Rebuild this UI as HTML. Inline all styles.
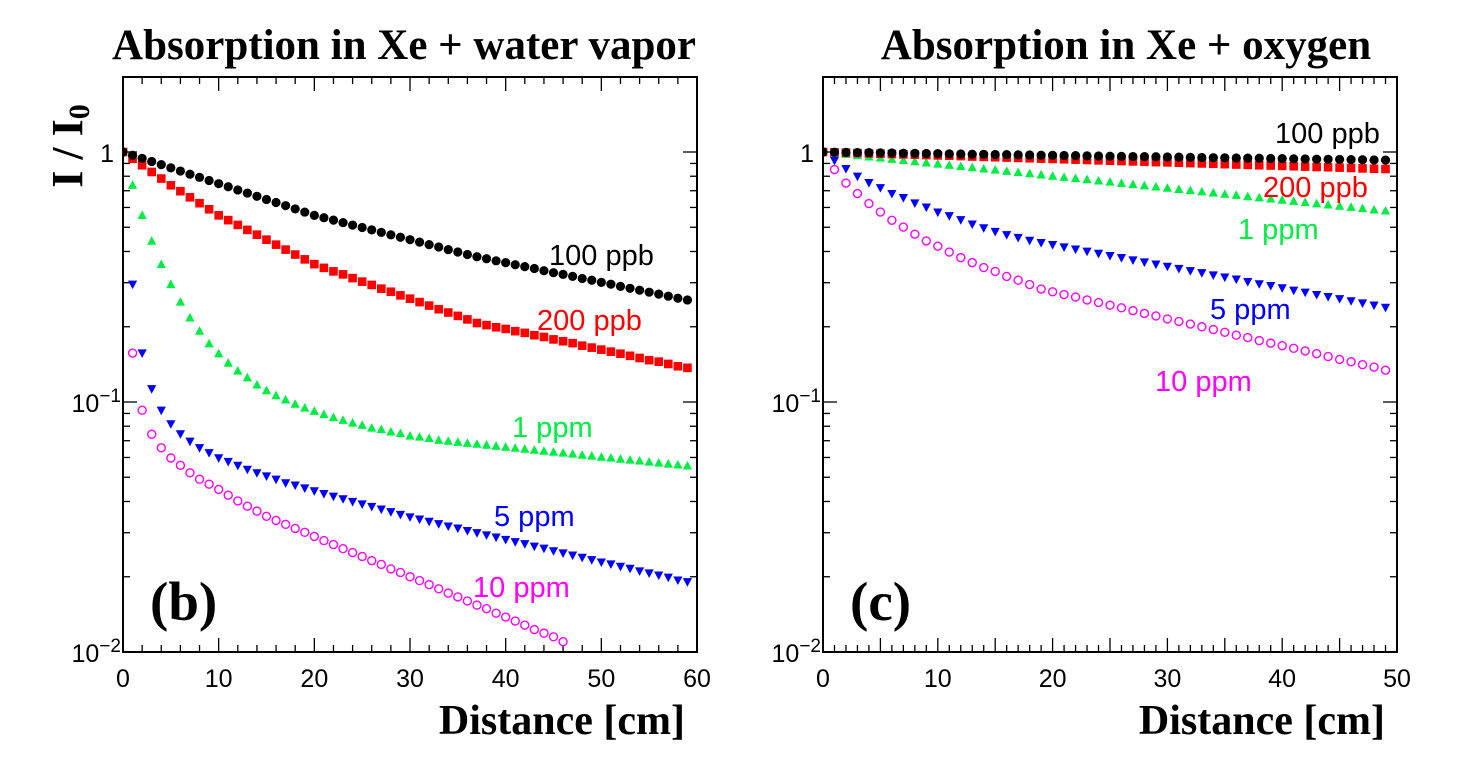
<!DOCTYPE html>
<html><head><meta charset="utf-8"><style>
html,body{margin:0;padding:0;background:#fff;}
svg{display:block;}
.serif{font-family:"Liberation Serif",serif;font-weight:bold;}
.sans{font-family:"Liberation Sans",sans-serif;}
</style></head><body>
<svg id="chart" width="1472" height="770" viewBox="0 0 1472 770" xmlns="http://www.w3.org/2000/svg">
<rect width="1472" height="770" fill="#fff"/>
<g id="panelB"></g>
<g id="panelC"></g>
</svg>
<script>
// ---- Panel (b): Xe + water vapor ----
const xB = [];
for (let i = 0; i < 60; i++) xB.push(i);
const b100ppb = [1.000,0.971,0.943,0.916,0.890,0.864,0.839,0.815,0.792,0.769,0.747,0.726,0.705,0.685,0.665,0.646,0.628,0.610,0.592,0.575,0.558,0.546,0.534,0.522,0.510,0.499,0.488,0.477,0.466,0.456,0.446,0.436,0.426,0.417,0.407,0.398,0.389,0.381,0.374,0.367,0.361,0.354,0.348,0.342,0.335,0.329,0.324,0.318,0.312,0.307,0.301,0.296,0.290,0.285,0.280,0.275,0.270,0.265,0.260,0.256];
const b200ppb = [1.000,0.940,0.885,0.832,0.783,0.736,0.697,0.659,0.624,0.590,0.558,0.534,0.511,0.488,0.467,0.446,0.426,0.407,0.389,0.372,0.356,0.344,0.333,0.324,0.313,0.303,0.294,0.284,0.276,0.267,0.259,0.251,0.243,0.235,0.228,0.221,0.214,0.207,0.203,0.199,0.196,0.192,0.189,0.185,0.182,0.178,0.175,0.172,0.168,0.165,0.162,0.159,0.156,0.153,0.150,0.147,0.145,0.142,0.139,0.137];
const b1ppm = [1.000,0.736,0.558,0.440,0.355,0.295,0.251,0.217,0.192,0.171,0.156,0.143,0.133,0.125,0.117,0.111,0.106,0.102,0.0980,0.0946,0.0918,0.0891,0.0867,0.0845,0.0824,0.0807,0.0787,0.0776,0.0759,0.0748,0.0731,0.0724,0.0715,0.0703,0.0697,0.0690,0.0684,0.0678,0.0672,0.0666,0.0660,0.0654,0.0648,0.0642,0.0636,0.0630,0.0625,0.0619,0.0613,0.0608,0.0602,0.0597,0.0591,0.0586,0.0581,0.0575,0.0570,0.0565,0.0560,0.0555];
const b5ppm = [1.000,0.296,0.157,0.113,0.0927,0.0818,0.0746,0.0697,0.0656,0.0627,0.0598,0.0578,0.0558,0.0538,0.0521,0.0506,0.0491,0.0475,0.0465,0.0453,0.0441,0.0430,0.0420,0.0410,0.0400,0.0391,0.0382,0.0373,0.0364,0.0355,0.0347,0.0340,0.0333,0.0326,0.0319,0.0313,0.0306,0.0300,0.0294,0.0288,0.0282,0.0276,0.0271,0.0265,0.0260,0.0254,0.0249,0.0244,0.0239,0.0234,0.0229,0.0225,0.0220,0.0216,0.0211,0.0207,0.0203,0.0199,0.0194,0.0191];
const b10ppm = [1.000,0.157,0.0927,0.0743,0.0656,0.0597,0.0558,0.0521,0.0491,0.0469,0.0447,0.0424,0.0402,0.0383,0.0366,0.0349,0.0336,0.0324,0.0312,0.0301,0.0290,0.0279,0.0269,0.0259,0.0250,0.0241,0.0232,0.0224,0.0215,0.0208,0.0200,0.0193,0.0186,0.0179,0.0172,0.0166,0.0160,0.0154,0.0149,0.0143,0.0138,0.0133,0.0128,0.0123,0.0119,0.0115,0.0110];
const xTicksB = [0,10,20,30,40,50,60];
// ---- Panel (c): Xe + oxygen ----
const xC = [];
for (let i = 0; i < 50; i++) xC.push(i);
const c100ppb = [1.000,0.998,0.997,0.995,0.994,0.992,0.991,0.989,0.988,0.986,0.985,0.983,0.982,0.980,0.979,0.977,0.976,0.974,0.973,0.971,0.970,0.968,0.967,0.965,0.964,0.962,0.961,0.959,0.958,0.957,0.955,0.954,0.952,0.951,0.949,0.948,0.946,0.945,0.944,0.942,0.941,0.939,0.938,0.936,0.935,0.934,0.932,0.931,0.929,0.928];
const c200ppb = [1.000,0.997,0.994,0.990,0.987,0.984,0.981,0.978,0.975,0.972,0.969,0.966,0.963,0.959,0.956,0.953,0.950,0.947,0.944,0.941,0.938,0.935,0.932,0.929,0.926,0.923,0.920,0.917,0.914,0.911,0.909,0.906,0.903,0.900,0.897,0.894,0.891,0.888,0.885,0.883,0.880,0.877,0.874,0.871,0.869,0.866,0.863,0.860,0.857,0.855];
const c1ppm = [1.000,0.989,0.978,0.967,0.956,0.946,0.935,0.925,0.915,0.905,0.895,0.885,0.875,0.866,0.856,0.847,0.837,0.828,0.819,0.810,0.801,0.792,0.783,0.775,0.766,0.758,0.749,0.741,0.733,0.725,0.717,0.709,0.701,0.693,0.686,0.678,0.671,0.663,0.656,0.649,0.642,0.635,0.628,0.621,0.614,0.607,0.601,0.594,0.587,0.581];
const c5ppm = [1.000,0.926,0.858,0.800,0.754,0.720,0.682,0.657,0.625,0.602,0.575,0.556,0.536,0.515,0.497,0.481,0.467,0.455,0.443,0.434,0.426,0.417,0.409,0.401,0.393,0.385,0.378,0.370,0.363,0.356,0.349,0.342,0.335,0.329,0.322,0.316,0.310,0.303,0.297,0.292,0.286,0.280,0.275,0.269,0.264,0.259,0.254,0.249,0.244,0.239];
const c10ppm = [1.000,0.851,0.751,0.682,0.622,0.575,0.533,0.501,0.469,0.441,0.420,0.398,0.378,0.361,0.345,0.333,0.318,0.307,0.295,0.283,0.276,0.269,0.263,0.256,0.250,0.244,0.238,0.232,0.226,0.221,0.215,0.210,0.205,0.200,0.195,0.190,0.185,0.181,0.176,0.172,0.168,0.164,0.160,0.156,0.152,0.148,0.145,0.141,0.138,0.134];
const xTicksC = [0,10,20,30,40,50];
const yTickExps = [-2,-1,0];

const NS = "http://www.w3.org/2000/svg";
function mk(tag, attrs, parent) {
  const e = document.createElementNS(NS, tag);
  for (const k in attrs) e.setAttribute(k, attrs[k]);
  parent.appendChild(e);
  return e;
}

function drawPanel(g, cfg) {
  const L = cfg.left, R = cfg.right, T = 77, B = 652;
  const ymin = -2, ymax = 0.3;
  const X = v => L + (v - cfg.xmin) / (cfg.xmax - cfg.xmin) * (R - L);
  const Y = v => B - (Math.log10(v) - ymin) / (ymax - ymin) * (B - T);
  const cp = mk('clipPath', {id: cfg.id + '-clip'}, g);
  mk('rect', {x: L, y: T, width: R - L, height: B - T}, cp);
  const fr = mk('rect', {x: L, y: T, width: R - L, height: B - T, fill: 'none', stroke: '#000', 'stroke-width': 2}, g);
  
  
  for (let v = cfg.xmin; v <= cfg.xmax + 1e-9; v += cfg.minorStep) {
    const major = Math.abs(v / cfg.majorStep - Math.round(v / cfg.majorStep)) < 1e-6;
    const len = major ? 14 : 7;
    const x = X(v);
    const t1 = mk('line', {x1: x, x2: x, y1: B, y2: B - len, stroke: '#000', 'stroke-width': 1.3}, g);
    
    
    const t2 = mk('line', {x1: x, x2: x, y1: T, y2: T + len, stroke: '#000', 'stroke-width': 1.3}, g);
    
    
  }
  cfg.xTicks.forEach(v => {
    const t = mk('text', {x: X(v), y: 687, 'text-anchor': 'middle', 'font-size': 25, class: 'sans'}, g);
    t.textContent = v;
    
    
  });
  for (let e = -2; e <= 0; e++) {
    for (let m = 1; m <= 9; m++) {
      const v = m * Math.pow(10, e);
      if (Math.log10(v) > ymax) break;
      const y = Y(v);
      const len = m === 1 ? 14 : 7;
      const a = mk('line', {x1: L, x2: L + len, y1: y, y2: y, stroke: '#000', 'stroke-width': 1.3}, g);
      
      
      const b = mk('line', {x1: R, x2: R - len, y1: y, y2: y, stroke: '#000', 'stroke-width': 1.3}, g);
      
      
    }
  }
  yTickExps.forEach(e => {
    const y = Y(Math.pow(10, e));
    const t = mk('text', {x: L - 9, y: y + 10, 'text-anchor': 'end', 'font-size': 25, class: 'sans'}, g);
    if (e === 0) { t.textContent = '1'; }
    else {
      t.textContent = '10';
      const s = mk('tspan', {dy: -10, 'font-size': 19}, t);
      s.textContent = '\u2212' + Math.abs(e);
      t.setAttribute('x', L - 2);
    }
    
    
  });
  const mg = mk('g', {'clip-path': 'url(#' + cfg.id + '-clip)'}, g);
  cfg.series.forEach(s => {
    const sg = mk('g', {}, mg);
    
    
    s.vals.forEach((v, i) => {
      const x = X(cfg.xs[i]), y = Y(v);
      let m;
      if (s.shape === 'circle') m = mk('circle', {cx: x, cy: y, r: 4.6, fill: s.color}, sg);
      else if (s.shape === 'square') m = mk('rect', {x: x - 4.3, y: y - 4.3, width: 8.6, height: 8.6, fill: s.color}, sg);
      else if (s.shape === 'up') m = mk('polygon', {points: `${x},${y-5} ${x-4.6},${y+3.6} ${x+4.6},${y+3.6}`, fill: s.color}, sg);
      else if (s.shape === 'down') m = mk('polygon', {points: `${x},${y+5} ${x-4.6},${y-3.6} ${x+4.6},${y-3.6}`, fill: s.color}, sg);
      else m = mk('circle', {cx: x, cy: y, r: 4, fill: 'none', stroke: s.color, 'stroke-width': 1.4}, sg);
      
      
    });
  });
  cfg.labels.forEach(l => {
    const t = mk('text', {x: l.x, y: l.y, 'font-size': 29, fill: l.color, class: 'sans'}, g);
    t.textContent = l.text;
    
    
  });
  const tt = mk('text', {x: cfg.titleX, y: 59, 'text-anchor': 'middle', 'font-size': 43, class: 'serif'}, g);
  tt.textContent = cfg.title;
  
  
  const xt = mk('text', {x: R - 12, y: 734, 'text-anchor': 'end', 'font-size': 42, class: 'serif'}, g);
  xt.textContent = 'Distance [cm]';
  
  
  const pl = mk('text', {x: L + 27, y: 620, 'font-size': 55, class: 'serif'}, g);
  pl.textContent = cfg.letter;
  
  
}

drawPanel(document.getElementById('panelB'), {
  id: 'pb', left: 123, right: 697, xmin: 0, xmax: 60, xs: xB, xTicks: xTicksB, majorStep: 10, minorStep: 2,
  title: 'Absorption in Xe + water vapor', titleX: 404, letter: '(b)',
  series: [
    {name: 'series-10ppm', vals: b10ppm, color: '#ff00ff', shape: 'open'},
    {name: 'series-5ppm', vals: b5ppm, color: '#0000ff', shape: 'down'},
    {name: 'series-1ppm', vals: b1ppm, color: '#00ee44', shape: 'up'},
    {name: 'series-200ppb', vals: b200ppb, color: '#ff0000', shape: 'square'},
    {name: 'series-100ppb', vals: b100ppb, color: '#000000', shape: 'circle'}
  ],
  labels: [
    {text: '100 ppb', x: 549, y: 265, color: '#000'},
    {text: '200 ppb', x: 537, y: 330, color: '#ff0000'},
    {text: '1 ppm', x: 512, y: 437, color: '#00ee44'},
    {text: '5 ppm', x: 494, y: 526, color: '#0000ff'},
    {text: '10 ppm', x: 473, y: 597, color: '#ff00ff'}
  ]
});
drawPanel(document.getElementById('panelC'), {
  id: 'pc', left: 823, right: 1397, xmin: 0, xmax: 50, xs: xC, xTicks: xTicksC, majorStep: 5, minorStep: 1,
  title: 'Absorption in Xe + oxygen', titleX: 1126, letter: '(c)',
  series: [
    {name: 'series-10ppm', vals: c10ppm, color: '#ff00ff', shape: 'open'},
    {name: 'series-5ppm', vals: c5ppm, color: '#0000ff', shape: 'down'},
    {name: 'series-1ppm', vals: c1ppm, color: '#00ee44', shape: 'up'},
    {name: 'series-200ppb', vals: c200ppb, color: '#ff0000', shape: 'square'},
    {name: 'series-100ppb', vals: c100ppb, color: '#000000', shape: 'circle'}
  ],
  labels: [
    {text: '100 ppb', x: 1275, y: 143, color: '#000'},
    {text: '200 ppb', x: 1263, y: 197, color: '#ff0000'},
    {text: '1 ppm', x: 1238, y: 239, color: '#00ee44'},
    {text: '5 ppm', x: 1210, y: 319, color: '#0000ff'},
    {text: '10 ppm', x: 1155, y: 391, color: '#ff00ff'}
  ]
});

const svg = document.getElementById('chart');
const yt = document.createElementNS(NS, 'text');
yt.setAttribute('transform', 'translate(82,146) rotate(-90)');
yt.setAttribute('text-anchor', 'middle');
yt.setAttribute('font-size', 44);
yt.setAttribute('class', 'serif');
yt.textContent = 'I / I';
const sub = document.createElementNS(NS, 'tspan');
sub.setAttribute('font-size', 30);
sub.setAttribute('dy', 7);
sub.textContent = '0';
yt.appendChild(sub);


svg.appendChild(yt);
</script>
</body></html>
